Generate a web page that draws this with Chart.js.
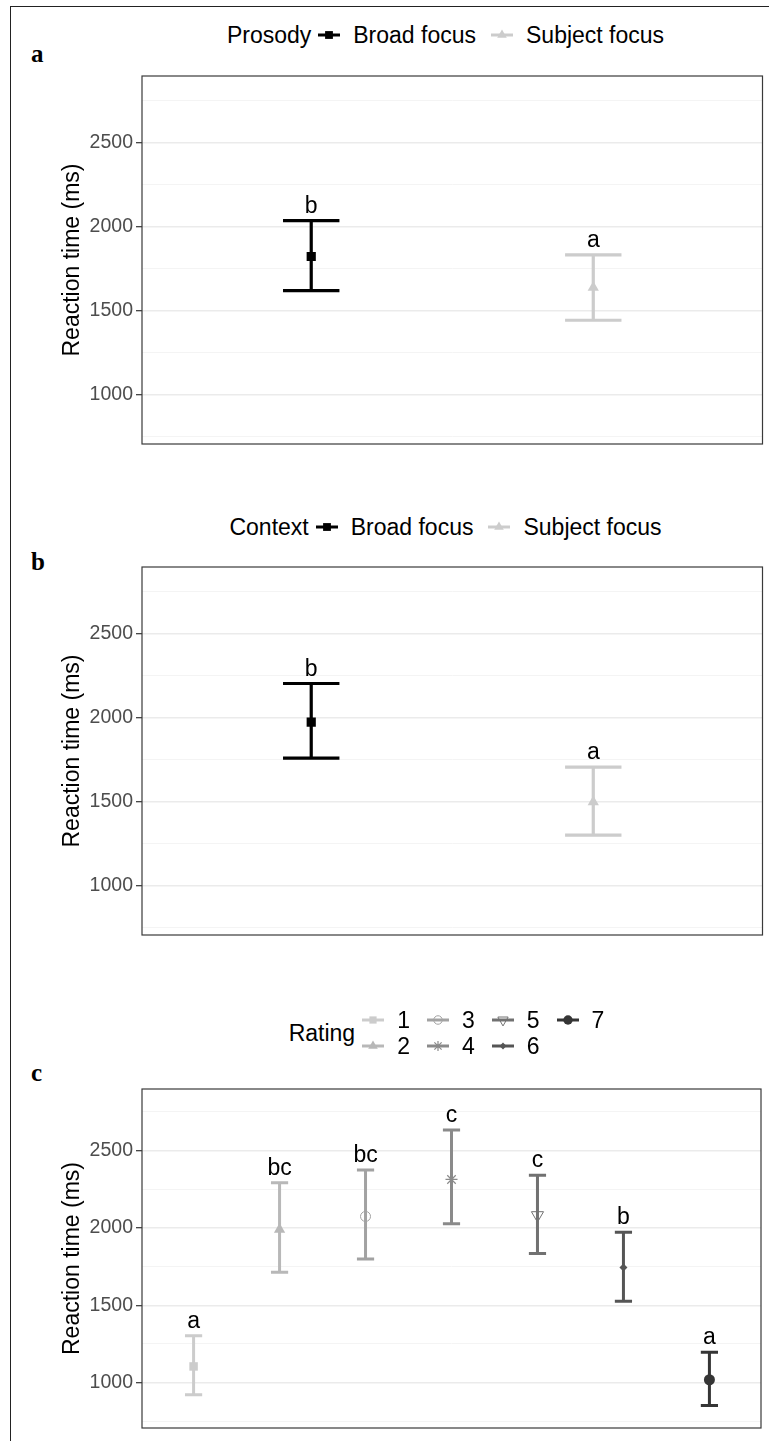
<!DOCTYPE html>
<html>
<head>
<meta charset="utf-8">
<script src="https://cdn.jsdelivr.net/npm/chart.js@4.4.1/dist/chart.umd.min.js"></script>
<style>
body { margin: 0; background: #fff; width: 769px; height: 1441px; position: relative; overflow: hidden;
       font-family: 'Liberation Sans', Arial, sans-serif; }
.frame { position: absolute; left: 10px; top: 6px; width: 900px; height: 1600px;
         border-left: 1.5px solid #222; border-top: 1.5px solid #222; }
.tag { position: absolute; left: 31px; font: bold 25px 'Liberation Serif', 'Times New Roman', serif; line-height: 25px; }
.panel { position: absolute; left: 0; }
.legend { position: absolute; left: 142px; width: 621px; display: flex; justify-content: center;
          align-items: center; font-size: 23px; color: #000; }
.legend .ltitle { margin-right: 6px; }
.legend .item { display: flex; align-items: center; margin-right: 14px; }
.legend .item canvas { margin-right: 12px; }
.legend .grid { display: grid; grid-template-rows: 26px 26px; grid-auto-flow: column; column-gap: 16px; }
</style>
</head>
<body>
<div class="frame"></div>

<div class="tag" style="top:41px">a</div>
<div class="tag" style="top:549px">b</div>
<div class="tag" style="top:1060px">c</div>

<div class="legend" id="legA" style="top:18px; height:34px"></div>
<div class="legend" id="legB" style="top:510px; height:34px"></div>
<div class="legend" id="legC" style="top:1007px; height:52px; left:136px"></div>

<canvas class="panel" id="chartA" width="769" height="408" style="top:56px"></canvas>
<canvas class="panel" id="chartB" width="769" height="408" style="top:547px"></canvas>
<canvas class="panel" id="chartC" width="769" height="379" style="top:1069px"></canvas>

<script>
// y axis
var yLimits = [706, 2898];
var yMajorTicks = [1000, 1500, 2000, 2500];
var yMinorTicks = [750, 1250, 1750, 2250, 2750];

// a: prosody
var focusGroups = ['Broad focus', 'Subject focus'];
var prosodyMean = [1823, 1638];
var prosodyLow = [1620, 1443];
var prosodyHigh = [2037, 1833];
var prosodyLetters = ['b', 'a'];

// b: context
var contextMean = [1974, 1498];
var contextLow = [1760, 1301];
var contextHigh = [2204, 1706];
var contextLetters = ['b', 'a'];

// c: rating
var ratingLevels = ['1', '2', '3', '4', '5', '6', '7'];
var ratingMean = [1104, 1990, 2074, 2313, 2082, 1743, 1018];
var ratingLow = [921, 1713, 1799, 2026, 1834, 1525, 852];
var ratingHigh = [1303, 2291, 2374, 2633, 2341, 1972, 1195];
var ratingLetters = ['a', 'bc', 'bc', 'c', 'c', 'b', 'a'];

var focusColors = ['#000000', '#cccccc'];
var focusShapes = [
    { style: 'rect', radius: 6.5, borderWidth: 0 },
    { style: 'triangle', radius: 6.5, borderWidth: 0 }
];
var ratingColors = ['#cccccc', '#b8b8b8', '#a2a2a2', '#8a8a8a', '#717171', '#555555', '#353535'];
var ratingShapes = [
    { style: 'rect', radius: 6, borderWidth: 0 },
    { style: 'triangle', radius: 6.5, borderWidth: 0 },
    { style: 'circle', radius: 5, borderWidth: 1, open: true },
    { style: 'star', radius: 6, borderWidth: 1.2 },
    { style: 'triangle', radius: 7, borderWidth: 1, rotation: 180, open: true },
    { style: 'rectRot', radius: 4, borderWidth: 0 },
    { style: 'circle', radius: 5.5, borderWidth: 0 }
];

Chart.defaults.font.family = "'Liberation Sans', Arial, sans-serif";

// error bars + letters + panel border
var errorBarPlugin = {
    id: 'errorBars',
    beforeDatasetsDraw: function (chart, args, opts) {
        var ctx = chart.ctx, x = chart.scales.x, y = chart.scales.y;
        ctx.save();
        ctx.lineWidth = opts.lineWidth;
        opts.low.forEach(function (lo, i) {
            var px = x.getPixelForValue(i + 1);
            var half = x.getPixelForValue(i + 1 + opts.capWidth / 2) - px;
            var yLo = y.getPixelForValue(lo);
            var yHi = y.getPixelForValue(opts.high[i]);
            ctx.strokeStyle = opts.colors[i];
            ctx.beginPath();
            ctx.moveTo(px, yLo); ctx.lineTo(px, yHi);
            ctx.moveTo(px - half, yLo); ctx.lineTo(px + half, yLo);
            ctx.moveTo(px - half, yHi); ctx.lineTo(px + half, yHi);
            ctx.stroke();
        });
        ctx.restore();
    },
    afterDatasetsDraw: function (chart, args, opts) {
        var ctx = chart.ctx, x = chart.scales.x, y = chart.scales.y;
        ctx.save();
        ctx.font = "23px 'Liberation Sans', Arial, sans-serif";
        ctx.fillStyle = '#000';
        ctx.textAlign = 'center';
        ctx.textBaseline = 'alphabetic';
        opts.letters.forEach(function (t, i) {
            ctx.fillText(t, x.getPixelForValue(i + 1), y.getPixelForValue(opts.high[i]) - 8);
        });
        var a = chart.chartArea;
        ctx.strokeStyle = '#3a3a3a';
        ctx.lineWidth = 1.2;
        ctx.strokeRect(a.left, a.top, a.right - a.left, a.bottom - a.top);
        ctx.restore();
    }
};

function isMajor(v) {
    return yMajorTicks.indexOf(v) >= 0;
}

function makePanel(id, groups, mean, low, high, letters, colors, shapes, lw) {
    var n = groups.length;
    return new Chart(document.getElementById(id), {
        type: 'scatter',
        data: {
            datasets: groups.map(function (g, i) {
                return {
                    label: g,
                    data: [{ x: i + 1, y: mean[i] }],
                    pointStyle: shapes[i].style,
                    rotation: shapes[i].rotation || 0,
                    pointRadius: shapes[i].radius,
                    borderWidth: shapes[i].borderWidth,
                    borderColor: colors[i],
                    backgroundColor: shapes[i].open ? 'rgba(0,0,0,0)' : colors[i]
                };
            })
        },
        options: {
            responsive: false,
            animation: false,
            layout: { padding: { left: 59, right: 6, top: 20, bottom: 20 } },
            plugins: {
                legend: { display: false },
                tooltip: { enabled: false },
                errorBars: { low: low, high: high, letters: letters, colors: colors, lineWidth: lw, capWidth: 0.2 }
            },
            scales: {
                x: { type: 'linear', display: false, min: 0.4, max: n + 0.6 },
                y: {
                    min: yLimits[0],
                    max: yLimits[1],
                    afterBuildTicks: function (s) {
                        s.ticks = yMinorTicks.concat(yMajorTicks).sort(function (a, b) { return a - b; })
                            .map(function (v) { return { value: v }; });
                    },
                    afterFit: function (s) { s.width = 83; },
                    border: { display: false },
                    grid: {
                        color: function (c) { return c.tick && isMajor(c.tick.value) ? '#ebebeb' : '#f4f4f4'; },
                        lineWidth: function (c) { return c.tick && isMajor(c.tick.value) ? 1.4 : 1; },
                        tickColor: function (c) { return c.tick && isMajor(c.tick.value) ? '#333' : 'rgba(0,0,0,0)'; },
                        tickWidth: 1.2,
                        tickLength: 6
                    },
                    ticks: {
                        autoSkip: false,
                        padding: 3,
                        color: '#4d4d4d',
                        font: { size: 19.5 },
                        callback: function (v) { return isMajor(v) ? String(v) : ''; }
                    },
                    title: {
                        display: true,
                        text: 'Reaction time (ms)',
                        color: '#000',
                        font: { size: 23 },
                        padding: { top: 0, bottom: 0 }
                    }
                }
            }
        },
        plugins: [errorBarPlugin]
    });
}

function makeKey(color, sh) {
    var c = document.createElement('canvas');
    c.width = 24; c.height = 22;
    var g = c.getContext('2d');
    g.strokeStyle = color;
    g.lineWidth = 3;
    g.beginPath(); g.moveTo(1, 11); g.lineTo(23, 11); g.stroke();
    g.fillStyle = sh.open ? 'rgba(0,0,0,0)' : color;
    g.lineWidth = sh.borderWidth;
    if (Chart.helpers && Chart.helpers.drawPoint) {
        Chart.helpers.drawPoint(g, {
            pointStyle: sh.style, radius: sh.radius * 0.85,
            rotation: sh.rotation || 0, borderWidth: sh.borderWidth
        }, 12, 11);
    }
    return c;
}

function makeItem(label, color, sh) {
    var it = document.createElement('span');
    it.className = 'item';
    it.appendChild(makeKey(color, sh));
    var t = document.createElement('span');
    t.textContent = label;
    it.appendChild(t);
    return it;
}

function buildLegend(id, title, labels, colors, shapes, twoRows) {
    var el = document.getElementById(id);
    var t = document.createElement('span');
    t.className = 'ltitle';
    t.textContent = title;
    el.appendChild(t);
    var box = el;
    if (twoRows) {
        box = document.createElement('div');
        box.className = 'grid';
        el.appendChild(box);
    }
    labels.forEach(function (l, i) {
        var it = makeItem(l, colors[i], shapes[i]);
        if (twoRows) it.style.marginRight = '0';
        box.appendChild(it);
    });
}

buildLegend('legA', 'Prosody', focusGroups, focusColors, focusShapes, false);
buildLegend('legB', 'Context', focusGroups, focusColors, focusShapes, false);
buildLegend('legC', 'Rating', ratingLevels, ratingColors, ratingShapes, true);

makePanel('chartA', focusGroups, prosodyMean, prosodyLow, prosodyHigh, prosodyLetters, focusColors, focusShapes, 3.2);
makePanel('chartB', focusGroups, contextMean, contextLow, contextHigh, contextLetters, focusColors, focusShapes, 3.2);
makePanel('chartC', ratingLevels, ratingMean, ratingLow, ratingHigh, ratingLetters, ratingColors, ratingShapes, 3);
</script>
</body>
</html>
